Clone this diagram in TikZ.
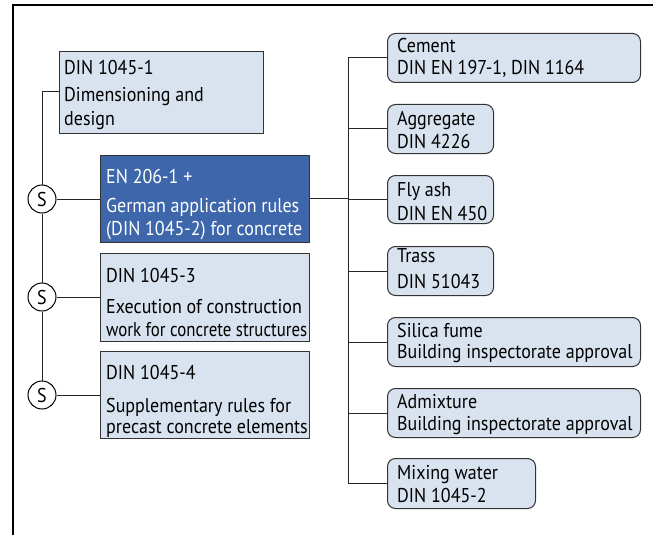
\documentclass[tikz,border=0pt]{standalone}
\usepackage{fontspec}
\usepackage{graphicx}
\setmainfont{PT Sans}[FakeStretch=0.9]
\definecolor{boxfill}{HTML}{D9E2EF}
\definecolor{bluefill}{HTML}{3E67AB}
\definecolor{boxline}{HTML}{333333}
\tikzset{
  sqbox/.style={draw=boxline, line width=1pt, fill=boxfill, anchor=north west, inner sep=0pt},
  bluebox/.style={sqbox, fill=bluefill},
  rbox/.style={sqbox, rounded corners=8pt},
  txt/.style={anchor=base west, inner sep=0pt, font=\fontsize{20}{22}\selectfont},
  wtxt/.style={txt, text=white},
  conn/.style={draw=black!85, line width=1pt},
  scirc/.style={circle, draw=black, line width=1pt, fill=white, minimum size=28pt, inner sep=0pt, font=\fontsize{20}{22}\selectfont},
}
\begin{document}
\begin{tikzpicture}[x=1pt,y=-1pt]
\useasboundingbox (0,0) rectangle (654,535);
% frame
\draw[line width=1.5pt] (13,535) -- (13,5) -- (653,5);

% left boxes
\node[sqbox, minimum width=204pt, minimum height=82pt] (d1) at (59,51) {};
\node[txt] at (64,75) {DIN 1045-1};
\node[txt] at (64,102) {Dimensioning and};
\node[txt] at (64,125) {design};

\node[bluebox, minimum width=209pt, minimum height=87pt] (en) at (100,155) {};
\node[wtxt] at (106,183) {EN 206-1 +};
\node[wtxt] at (106,212) {German application rules};
\node[wtxt] at (106,235) {(DIN 1045-2) for concrete};

\node[sqbox, minimum width=209pt, minimum height=88pt] (d3) at (100,253) {};
\node[txt] at (106,282) {DIN 1045-3};
\node[txt] at (106,313) {Execution of construction};
\node[txt] at (106,336) {\scalebox{0.935}[1]{work for concrete structures}};

\node[sqbox, minimum width=209pt, minimum height=87pt] (d4) at (100,351) {};
\node[txt] at (106,379) {DIN 1045-4};
\node[txt] at (106,412) {Supplementary rules for};
\node[txt] at (106,433) {precast concrete elements};

% S circles
\node[scirc] (s1) at (42,199) {S};
\node[scirc] (s2) at (42,297) {S};
\node[scirc] (s3) at (42,395) {S};
\coordinate (top) at (42,92);

\draw[conn] (d1.west |- top) -- (top) -- (s1.north);
\draw[conn] (s1.south) -- (s2.north);
\draw[conn] (s2.south) -- (s3.north);
\draw[conn] (s1.east) -- (s1.east -| en.west);
\draw[conn] (s2.east) -- (s2.east -| d3.west);
\draw[conn] (s3.east) -- (s3.east -| d4.west);

% right boxes
\node[rbox, minimum width=253pt, minimum height=49pt] (cem) at (387,33) {};
\node[txt] at (397,53) {Cement};
\node[txt] at (397,75) {DIN EN 197-1, DIN 1164};

\node[rbox, minimum width=106pt, minimum height=49pt] (agg) at (387,104) {};
\node[txt] at (397,125) {Aggregate};
\node[txt] at (397,148) {DIN 4226};

\node[rbox, minimum width=106pt, minimum height=48pt] (fly) at (387,175) {};
\node[txt] at (397,196) {Fly ash};
\node[txt] at (397,220) {DIN EN 450};

\node[rbox, minimum width=106pt, minimum height=49pt] (tra) at (387,246) {};
\node[txt] at (397,262) {Trass};
\node[txt] at (397,288) {DIN 51043};

\node[rbox, minimum width=253pt, minimum height=49pt] (sil) at (387,317) {};
\node[txt] at (397,337) {Silica fume};
\node[txt] at (397,358) {Building inspectorate approval};

\node[rbox, minimum width=253pt, minimum height=49pt] (adm) at (387,388) {};
\node[txt] at (397,408) {Admixture};
\node[txt] at (397,430) {Building inspectorate approval};

\node[rbox, minimum width=148pt, minimum height=50pt] (mix) at (387,458) {};
\node[txt] at (397,479) {Mixing water};
\node[txt] at (397,502) {DIN 1045-2};

% right connectors
\coordinate (bus) at (348,198);
\draw[conn] (en.east |- bus) -- (bus);
\draw[conn] (cem.west) -- (cem.west -| bus) -- (mix.west -| bus) -- (mix.west);
\foreach \n in {agg,fly,tra,sil,adm} \draw[conn] (\n.west -| bus) -- (\n.west);
\end{tikzpicture}
\end{document}
